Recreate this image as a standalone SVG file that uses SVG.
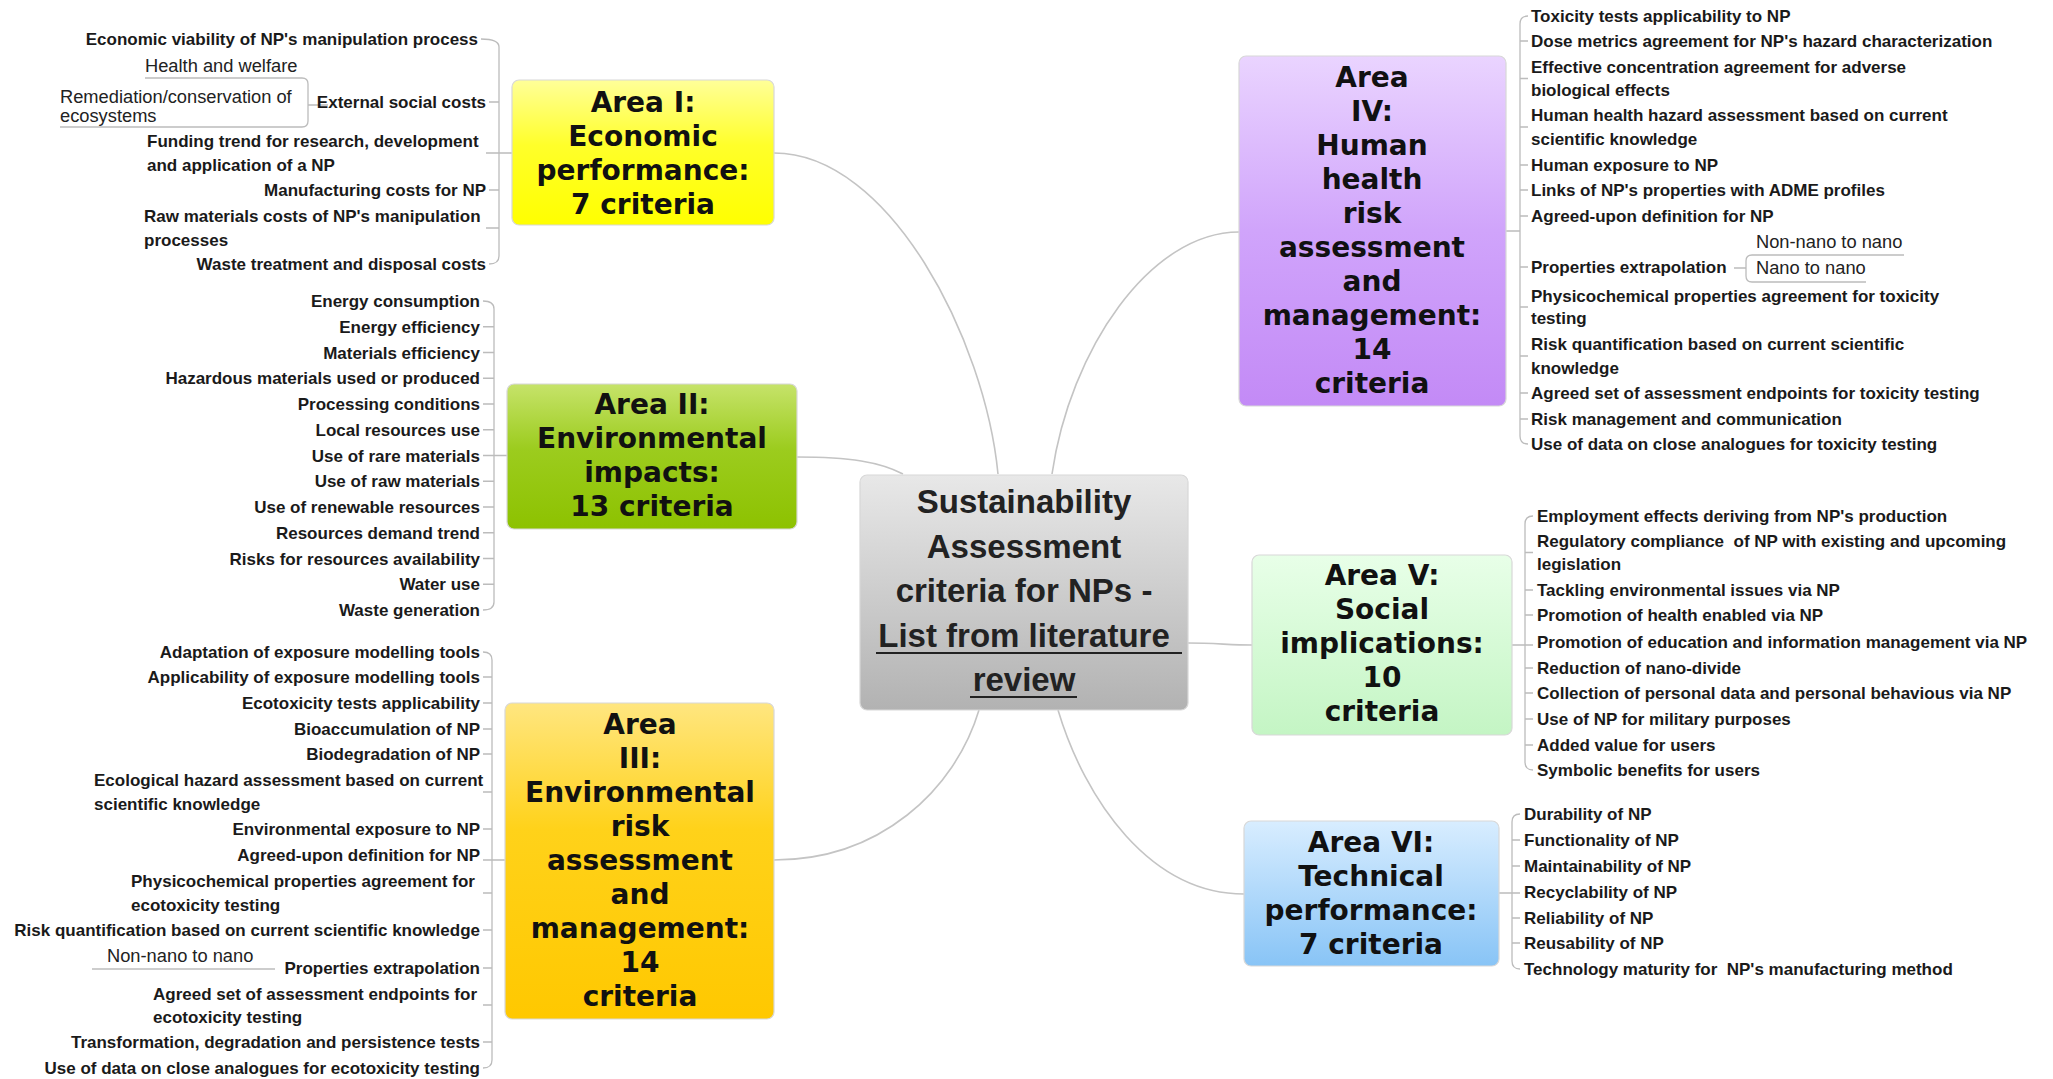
<svg xmlns="http://www.w3.org/2000/svg" width="2053" height="1079" viewBox="0 0 2053 1079">
<defs>
<linearGradient id="gC" x1="0" y1="0" x2="0" y2="1"><stop offset="0" stop-color="#e8e8e8"/><stop offset="1" stop-color="#b2b2b2"/></linearGradient>
<linearGradient id="g1" x1="0" y1="0" x2="0" y2="1"><stop offset="0" stop-color="#ffff99"/><stop offset="0.45" stop-color="#ffff2a"/><stop offset="1" stop-color="#ffff00"/></linearGradient>
<linearGradient id="g2" x1="0" y1="0" x2="0" y2="1"><stop offset="0" stop-color="#c6e36a"/><stop offset="0.45" stop-color="#9ccc1e"/><stop offset="1" stop-color="#8dc200"/></linearGradient>
<linearGradient id="g3" x1="0" y1="0" x2="0" y2="1"><stop offset="0" stop-color="#ffe680"/><stop offset="0.4" stop-color="#ffd21a"/><stop offset="1" stop-color="#ffc800"/></linearGradient>
<linearGradient id="g4" x1="0" y1="0" x2="0" y2="1"><stop offset="0" stop-color="#ead4ff"/><stop offset="0.5" stop-color="#d0a4fb"/><stop offset="1" stop-color="#c38af6"/></linearGradient>
<linearGradient id="g5" x1="0" y1="0" x2="0" y2="1"><stop offset="0" stop-color="#e8ffe8"/><stop offset="1" stop-color="#c4f5c4"/></linearGradient>
<linearGradient id="g6" x1="0" y1="0" x2="0" y2="1"><stop offset="0" stop-color="#d8edff"/><stop offset="1" stop-color="#88c4f6"/></linearGradient>
</defs>
<style>
.box{stroke:#d8d8d8;stroke-width:1.2}
.area{font-family:"DejaVu Sans",Verdana,sans-serif;font-weight:bold;font-size:28px;fill:#111;text-anchor:middle}
.center{font-family:"Liberation Sans",Arial,sans-serif;font-weight:bold;font-size:33px;fill:#222;text-anchor:middle}
.it{font-family:"Liberation Sans",Arial,sans-serif;font-weight:bold;font-size:17px;fill:#1a1a1a}
.r{text-anchor:end}
.sub{font-family:"Liberation Sans",Arial,sans-serif;font-size:18.3px;fill:#222}
.conn{fill:none;stroke:#c4c4c4;stroke-width:1.6}
.br{fill:none;stroke:#bcbcbc;stroke-width:1.3}
.ul{stroke:#222;stroke-width:2}
</style>

<g id="connectors">
<path class="conn" d="M774,153 C890,153 985,340 998,474"/>
<path class="conn" d="M797,457 C850,457 880,462 903,474"/>
<path class="conn" d="M774,860 C880,860 955,790 979,710"/>
<path class="conn" d="M1239,232 C1150,232 1070,350 1052,474"/>
<path class="conn" d="M1188,643 C1215,643 1230,645 1252,645"/>
<path class="conn" d="M1058,710 C1085,800 1150,894 1244,894"/>
<path class="br" d="M481,39 Q499,39 499,47 V256 Q499,264 489,264 M489,102 H499 M486,153 H512 M489,190 H499 M486,228 H499"/>
<path class="br" d="M145,78 H302 Q308,78 308,84 V121 Q308,127 302,127 H60 M308,105 H328"/>
<path class="br" d="M483,301 Q494,301 494,309 V602 Q494,610 483,610 M483,326.75 H494 M483,352.5 H494 M483,378.25 H494 M483,404 H494 M483,429.75 H494 M483,455.5 H507 M483,481.25 H494 M483,507 H494 M483,532.75 H494 M483,558.5 H494 M483,584.25 H494"/>
<path class="br" d="M483,652 Q492,652 492,660 V1060 Q492,1068 483,1068 M483,677 H492 M483,703 H492 M483,729 H492 M483,754 H492 M483,792 H492 M483,829 H492 M483,860 H505 M483,893 H492 M483,930 H492 M483,968 H492 M483,1005 H492 M483,1042 H492"/>
<path class="br" d="M92,969 H275"/>
<path class="br" d="M1528,16 Q1520,16 1520,24 V436 Q1520,444 1528,444 M1520,41 H1528 M1520,78.5 H1528 M1520,127 H1528 M1520,165 H1528 M1520,190 H1528 M1520,216 H1528 M1506,231 H1520 M1520,267 H1528 M1520,307 H1528 M1520,356 H1528 M1520,393 H1528 M1520,419 H1528"/>
<path class="br" d="M1904,255 H1752 Q1746,255 1746,261 V276 Q1746,282 1752,282 H1866 M1734,268 H1746"/>
<path class="br" d="M1533,516 Q1525,516 1525,524 V762 Q1525,770 1533,770 M1525,552.5 H1533 M1525,590 H1533 M1525,615 H1533 M1512,645 H1533 M1525,668 H1533 M1525,693 H1533 M1525,719 H1533 M1525,745 H1533"/>
<path class="br" d="M1520,814 Q1512,814 1512,822 V961 Q1512,969 1520,969 M1512,840 H1520 M1512,866 H1520 M1499,893 H1520 M1512,918 H1520 M1512,943 H1520"/>
</g>

<g id="center">
<rect class="box" x="860" y="475" width="328" height="235" rx="7" fill="url(#gC)"/>
<text class="center" x="1024" y="513">Sustainability</text>
<text class="center" x="1024" y="558">Assessment</text>
<text class="center" x="1024" y="602">criteria for NPs -</text>
<text class="center" x="1024" y="647">List from literature</text>
<text class="center" x="1024" y="691">review</text>
<line class="ul" x1="876" y1="653" x2="1182" y2="653"/>
<line class="ul" x1="970" y1="697" x2="1077" y2="697"/>
</g>

<g id="area1">
<rect class="box" x="512" y="80" width="262" height="145" rx="7" fill="url(#g1)" stroke="#f0f080"/>
<text class="area" x="643" y="112">Area I:</text>
<text class="area" x="643" y="146">Economic</text>
<text class="area" x="643" y="180">performance:</text>
<text class="area" x="643" y="214">7 criteria</text>
<text class="it r" x="478" y="45">Economic viability of NP's manipulation process</text>
<text class="sub" x="145" y="72">Health and welfare</text>
<text class="sub" x="60" y="103">Remediation/conservation of</text>
<text class="sub" x="60" y="122">ecosystems</text>
<text class="it r" x="486" y="108">External social costs</text>
<text class="it" x="147" y="147">Funding trend for research, development</text>
<text class="it" x="147" y="171">and application of a NP</text>
<text class="it r" x="486" y="196">Manufacturing costs for NP</text>
<text class="it" x="144" y="222">Raw materials costs of NP's manipulation</text>
<text class="it" x="144" y="246">processes</text>
<text class="it r" x="486" y="270">Waste treatment and disposal costs</text>
</g>

<g id="area2">
<rect class="box" x="507" y="384" width="290" height="145" rx="7" fill="url(#g2)" stroke="#b8dc70"/>
<text class="area" x="652" y="414">Area II:</text>
<text class="area" x="652" y="448">Environmental</text>
<text class="area" x="652" y="482">impacts:</text>
<text class="area" x="652" y="516">13 criteria</text>
<text class="it r" x="480" y="307">Energy consumption</text>
<text class="it r" x="480" y="332.75">Energy efficiency</text>
<text class="it r" x="480" y="358.5">Materials efficiency</text>
<text class="it r" x="480" y="384.25">Hazardous materials used or produced</text>
<text class="it r" x="480" y="410">Processing conditions</text>
<text class="it r" x="480" y="435.75">Local resources use</text>
<text class="it r" x="480" y="461.5">Use of rare materials</text>
<text class="it r" x="480" y="487.25">Use of raw materials</text>
<text class="it r" x="480" y="513">Use of renewable resources</text>
<text class="it r" x="480" y="538.75">Resources demand trend</text>
<text class="it r" x="480" y="564.5">Risks for resources availability</text>
<text class="it r" x="480" y="590.25">Water use</text>
<text class="it r" x="480" y="616">Waste generation</text>
</g>

<g id="area3">
<rect class="box" x="505" y="703" width="269" height="316" rx="7" fill="url(#g3)" stroke="#ffe070"/>
<text class="area" x="640" y="734">Area</text>
<text class="area" x="640" y="768">III:</text>
<text class="area" x="640" y="802">Environmental</text>
<text class="area" x="640" y="836">risk</text>
<text class="area" x="640" y="870">assessment</text>
<text class="area" x="640" y="904">and</text>
<text class="area" x="640" y="938">management:</text>
<text class="area" x="640" y="972">14</text>
<text class="area" x="640" y="1006">criteria</text>
<text class="it r" x="480" y="658">Adaptation of exposure modelling tools</text>
<text class="it r" x="480" y="683">Applicability of exposure modelling tools</text>
<text class="it r" x="480" y="709">Ecotoxicity tests applicability</text>
<text class="it r" x="480" y="735">Bioaccumulation of NP</text>
<text class="it r" x="480" y="760">Biodegradation of NP</text>
<text class="it" x="94" y="786">Ecological hazard assessment based on current</text>
<text class="it" x="94" y="810">scientific knowledge</text>
<text class="it r" x="480" y="835">Environmental exposure to NP</text>
<text class="it r" x="480" y="861">Agreed-upon definition for NP</text>
<text class="it" x="131" y="887">Physicochemical properties agreement for</text>
<text class="it" x="131" y="911">ecotoxicity testing</text>
<text class="it r" x="480" y="936">Risk quantification based on current scientific knowledge</text>
<text class="sub" x="107" y="962">Non-nano to nano</text>
<text class="it r" x="480" y="974">Properties extrapolation</text>
<text class="it" x="153" y="1000">Agreed set of assessment endpoints for</text>
<text class="it" x="153" y="1023">ecotoxicity testing</text>
<text class="it r" x="480" y="1048">Transformation, degradation and persistence tests</text>
<text class="it r" x="480" y="1074">Use of data on close analogues for ecotoxicity testing</text>
</g>

<g id="area4">
<rect class="box" x="1239" y="56" width="267" height="350" rx="7" fill="url(#g4)" stroke="#dcc0f8"/>
<text class="area" x="1372" y="87">Area</text>
<text class="area" x="1372" y="121">IV:</text>
<text class="area" x="1372" y="155">Human</text>
<text class="area" x="1372" y="189">health</text>
<text class="area" x="1372" y="223">risk</text>
<text class="area" x="1372" y="257">assessment</text>
<text class="area" x="1372" y="291">and</text>
<text class="area" x="1372" y="325">management:</text>
<text class="area" x="1372" y="359">14</text>
<text class="area" x="1372" y="393">criteria</text>
<text class="it" x="1531" y="22">Toxicity tests applicability to NP</text>
<text class="it" x="1531" y="47">Dose metrics agreement for NP's hazard characterization</text>
<text class="it" x="1531" y="73">Effective concentration agreement for adverse</text>
<text class="it" x="1531" y="96">biological effects</text>
<text class="it" x="1531" y="121">Human health hazard assessment based on current</text>
<text class="it" x="1531" y="145">scientific knowledge</text>
<text class="it" x="1531" y="171">Human exposure to NP</text>
<text class="it" x="1531" y="196">Links of NP's properties with ADME profiles</text>
<text class="it" x="1531" y="222">Agreed-upon definition for NP</text>
<text class="sub" x="1756" y="248">Non-nano to nano</text>
<text class="it" x="1531" y="273">Properties extrapolation</text>
<text class="sub" x="1756" y="274">Nano to nano</text>
<text class="it" x="1531" y="302">Physicochemical properties agreement for toxicity</text>
<text class="it" x="1531" y="324">testing</text>
<text class="it" x="1531" y="350">Risk quantification based on current scientific</text>
<text class="it" x="1531" y="374">knowledge</text>
<text class="it" x="1531" y="399">Agreed set of assessment endpoints for toxicity testing</text>
<text class="it" x="1531" y="425">Risk management and communication</text>
<text class="it" x="1531" y="450">Use of data on close analogues for toxicity testing</text>
</g>

<g id="area5">
<rect class="box" x="1252" y="555" width="260" height="180" rx="7" fill="url(#g5)" stroke="#c8ecc8"/>
<text class="area" x="1382" y="585">Area V:</text>
<text class="area" x="1382" y="619">Social</text>
<text class="area" x="1382" y="653">implications:</text>
<text class="area" x="1382" y="687">10</text>
<text class="area" x="1382" y="721">criteria</text>
<text class="it" x="1537" y="522">Employment effects deriving from NP's production</text>
<text class="it" x="1537" y="547" xml:space="preserve">Regulatory compliance  of NP with existing and upcoming</text>
<text class="it" x="1537" y="570">legislation</text>
<text class="it" x="1537" y="596">Tackling environmental issues via NP</text>
<text class="it" x="1537" y="621">Promotion of health enabled via NP</text>
<text class="it" x="1537" y="648">Promotion of education and information management via NP</text>
<text class="it" x="1537" y="674">Reduction of nano-divide</text>
<text class="it" x="1537" y="699">Collection of personal data and personal behavious via NP</text>
<text class="it" x="1537" y="725">Use of NP for military purposes</text>
<text class="it" x="1537" y="751">Added value for users</text>
<text class="it" x="1537" y="776">Symbolic benefits for users</text>
</g>

<g id="area6">
<rect class="box" x="1244" y="821" width="255" height="145" rx="7" fill="url(#g6)" stroke="#b8dcf8"/>
<text class="area" x="1371" y="852">Area VI:</text>
<text class="area" x="1371" y="886">Technical</text>
<text class="area" x="1371" y="920">performance:</text>
<text class="area" x="1371" y="954">7 criteria</text>
<text class="it" x="1524" y="820">Durability of NP</text>
<text class="it" x="1524" y="846">Functionality of NP</text>
<text class="it" x="1524" y="872">Maintainability of NP</text>
<text class="it" x="1524" y="898">Recyclability of NP</text>
<text class="it" x="1524" y="924">Reliability of NP</text>
<text class="it" x="1524" y="949">Reusability of NP</text>
<text class="it" x="1524" y="975" xml:space="preserve">Technology maturity for  NP's manufacturing method</text>
</g>
</svg>
